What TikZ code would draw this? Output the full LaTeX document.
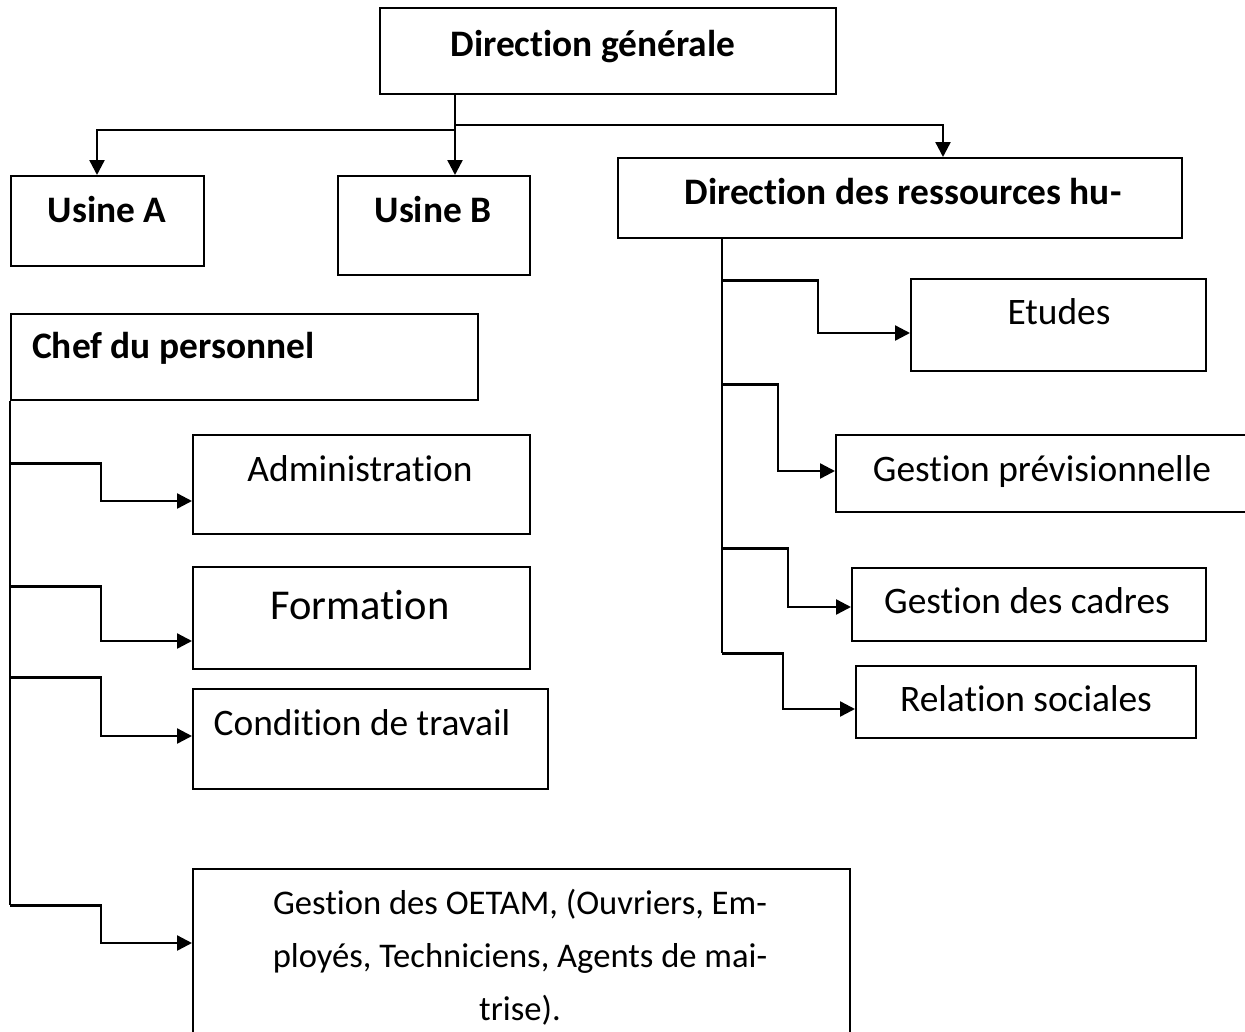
\documentclass[tikz,border=0pt]{standalone}
\usepackage{fontspec}
\setmainfont{Carlito}[Ligatures={NoCommon}]
\usetikzlibrary{arrows.meta,calc}
\tikzset{
  box/.style={draw, line width=2.3pt, anchor=north west, inner sep=0pt},
  lbl/.style={anchor=base, inner sep=0pt, font=\fontsize{37.4}{44}\selectfont},
  blbl/.style={anchor=base, inner sep=0pt, font=\fontsize{37.4}{44}\selectfont\bfseries},
  olbl/.style={anchor=base, inner sep=0pt, font=\fontsize{34.6}{42}\selectfont},
  conn/.style={line width=2.4pt},
  arr/.style={line width=2.4pt, -{Triangle[length=15pt,width=15pt]}}
}
\begin{document}
\begin{tikzpicture}[x=1pt,y=-1pt]
\useasboundingbox[fill=white] (0,0) rectangle (1245,1031);
% boxes
\node[box, minimum width=456pt, minimum height=86pt] (dg) at (379,7) {};
\node[box, minimum width=193pt, minimum height=90pt] (ua) at (10,175) {};
\node[box, minimum width=192pt, minimum height=99pt] (ub) at (337,175) {};
\node[box, minimum width=564pt, minimum height=80pt] (drh) at (617,157) {};
\node[box, minimum width=467pt, minimum height=86pt] (chef) at (10,313) {};
\node[box, minimum width=337pt, minimum height=99pt] (adm) at (192,434) {};
\node[box, minimum width=337pt, minimum height=102pt] (form) at (192,566) {};
\node[box, minimum width=355pt, minimum height=100pt] (cond) at (192,688) {};
\node[box, minimum width=657pt, minimum height=177pt] (oetam) at (192,868) {};
\node[box, minimum width=295pt, minimum height=92pt] (etu) at (910,278) {};
\node[box, minimum width=425pt, minimum height=77pt] (gprev) at (835,434) {};
\node[box, minimum width=354pt, minimum height=73pt] (gcad) at (851,567) {};
\node[box, minimum width=340pt, minimum height=72pt] (rel) at (855,665) {};
% texts
\node[blbl] (tdg) at (593,56) {Direction générale};
\node[blbl] (tua) at (107,222) {Usine A};
\node[blbl] (tub) at (433,222) {Usine B};
\node[blbl] (tdrh) at (903,204) {Direction des ressources hu-};
\node[blbl, anchor=base west] (tchef) at (32,358) {Chef du personnel};
\node[lbl] (tadm) at (360,481) {Administration};
\node[lbl, font=\fontsize{42.5}{50}\selectfont] (tform) at (360,619) {Formation};
\node[lbl] (tcond) at (362,735) {Condition de travail};
\node[olbl] (to1) at (520,914) {Gestion des OETAM, (Ouvriers, Em-};
\node[olbl] (to2) at (520,967) {ployés, Techniciens, Agents de mai-};
\node[olbl] (to3) at (520,1020) {trise).};
\node[lbl] (tetu) at (1059,324) {Etudes};
\node[lbl] (tgprev) at (1042,481) {Gestion prévisionnelle};
\node[lbl] (tgcad) at (1027,613) {Gestion des cadres};
\node[lbl] (trel) at (1026,711) {Relation sociales};
% top connectors
\coordinate (jl) at (455,130);
\coordinate (jr) at (455,125);
\draw[arr] (dg.south -| jl) -- (ub.north -| jl);
\draw[arr] (jl) -| ($(ua.north west)+(87,0)$);
\draw[arr] (jr) -| ($(drh.north west)+(326,0)$);
% chef du personnel
\draw[conn] (chef.south west) -- ($(chef.south west)+(0,504)$);
\draw[arr] ($(chef.south west)+(0,62)$) -- ++(91,0) |- ($(adm.north west)+(0,67)$);
\draw[arr] ($(chef.south west)+(0,185)$) -- ++(91,0) |- ($(form.north west)+(0,75)$);
\draw[arr] ($(chef.south west)+(0,276)$) -- ++(91,0) |- ($(cond.north west)+(0,48)$);
\draw[arr] ($(chef.south west)+(0,504)$) -- ++(91,0) |- ($(oetam.north west)+(0,75)$);
% DRH
\coordinate (dt) at ($(drh.south west)+(105,0)$);
\draw[conn] (dt) -- ($(dt)+(0,414)$);
\draw[arr] ($(dt)+(0,41)$) -- ++(96,0) |- ($(etu.north west)+(0,55)$);
\draw[arr] ($(dt)+(0,145)$) -- ++(56,0) |- ($(gprev.north west)+(0,37)$);
\draw[arr] ($(dt)+(0,309)$) -- ++(66,0) |- ($(gcad.north west)+(0,40)$);
\draw[arr] ($(dt)+(0,414)$) -- ++(61,0) |- ($(rel.north west)+(0,44)$);
\end{tikzpicture}
\end{document}
